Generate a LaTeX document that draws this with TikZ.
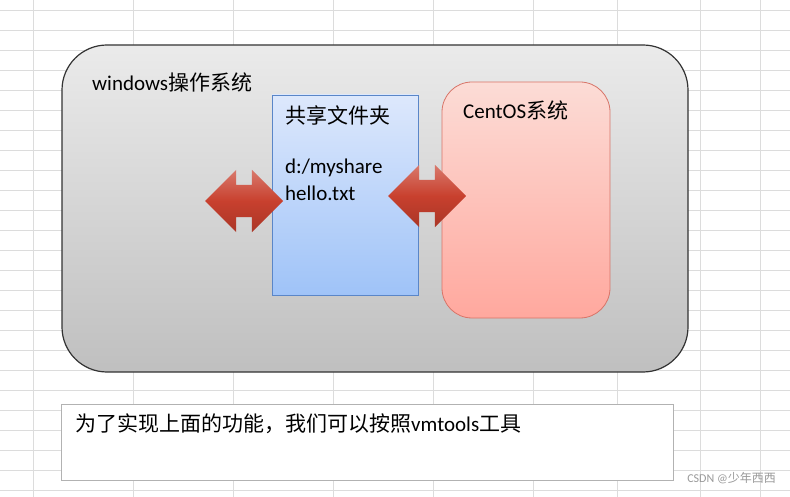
\documentclass[tikz,border=0pt]{standalone}
\usepackage{fontspec}
\setmainfont{Carlito}
\newfontfamily\cjk{Noto Sans CJK SC}
\usetikzlibrary{shapes.arrows}
\definecolor{gridgray}{HTML}{DCDCDC}
\definecolor{arrowred}{HTML}{C8402E}
\definecolor{sharetop}{HTML}{DDE8FC}
\definecolor{sharebot}{HTML}{9FC3F8}
\definecolor{shareline}{HTML}{5A86C8}
\definecolor{centtop}{HTML}{FCDCD6}
\definecolor{centbot}{HTML}{FFA89E}
\definecolor{centline}{HTML}{D87468}
\tikzset{
  label text/.style={anchor=west, inner sep=0pt, font=\fontsize{21}{23}\selectfont},
  swap arrow/.style={draw=none, shape=double arrow, double arrow head extend=15pt,
    minimum height=78pt, inner xsep=0pt, inner ysep=16pt,
    top color=arrowred!70!white, bottom color=arrowred!85!black, middle color=arrowred}
}
\begin{document}
\begin{tikzpicture}[x=1pt, y=-1pt]
                \useasboundingbox (0,0) rectangle (790,497);
                \fill[white] (0,0) rectangle (790,497);

                % Sheet grid
                \foreach \gy in {10,30,...,490}
                  \draw[gridgray, line width=0.8pt] (0,\gy) -- (790,\gy);
                \foreach \gx in {33,133,233,333,433,533,617,700,760}
                  \draw[gridgray, line width=0.8pt] (\gx,0) -- (\gx,497);

                % Boxes
                \draw[rounded corners=45pt, line width=1.2pt, draw=black!80, top color=black!8, bottom color=black!25]
                  (62,45) rectangle (688,372);
                \node[label text] at (92,82) (win) {windows{\cjk 操作系统}};
                \draw[line width=0.8pt, draw=shareline, top color=sharetop, bottom color=sharebot]
                  (272,95) rectangle (418,295);
                \node[label text] at (285,115) (share) {\cjk 共享文件夹};
                \node[label text] at (285,168) (path) {d:/myshare};
                \node[label text] at (285,193) (file) {hello.txt};
                \draw[rounded corners=30pt, line width=0.8pt, draw=centline, top color=centtop, bottom color=centbot]
                  (442,82) rectangle (610,318);
                \node[label text] at (463,110) (centos) {CentOS{\cjk 系统}};

                % Arrows
                \node[swap arrow] at (244,201) (left) {};
                \node[swap arrow] at (427,196) (right) {};

                % Note
                \draw[draw=black!30, fill=white] (61,404) rectangle (673,480);
                \node[label text] at (75,424) (note) {\cjk 为了实现上面的功能，我们可以按照{\rmfamily vmtools}工具};
                \node[anchor=east, inner sep=0pt, text=black!40, font=\fontsize{12}{14}\selectfont] at (776,478) (mark) {CSDN @{\cjk 少年西西}};
            \end{tikzpicture}
\end{document}
